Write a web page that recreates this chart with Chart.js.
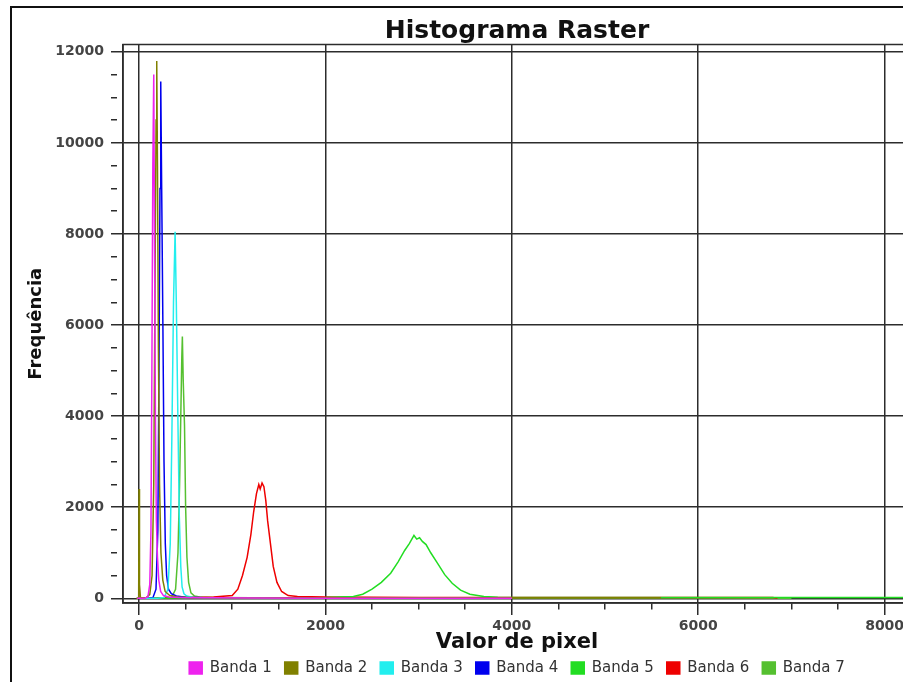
<!DOCTYPE html>
<html>
<head>
<meta charset="utf-8">
<script src="https://cdn.jsdelivr.net/npm/chart.js"></script>
<style>
  body { margin: 0; background: #fff; overflow: hidden; }
  .frame {
    position: absolute; left: 10px; top: 6px; width: 1000px; height: 1000px;
    border-left: 2px solid #111; border-top: 2px solid #111;
  }
  #wrap { position: absolute; left: 0; top: 0; width: 920px; height: 682px; }
</style>
</head>
<body>
<div class="frame"></div>
<div id="wrap"><canvas id="histChart" width="920" height="682"></canvas></div>
<script>
// Histograma Raster - frequência por valor de pixel, 7 bandas

const bandNames = ["Banda 1", "Banda 2", "Banda 3", "Banda 4", "Banda 5", "Banda 6", "Banda 7"];
const bandColors = ["#ee22ee", "#808000", "#22eeee", "#0000ee", "#22dd22", "#ee0000", "#55c030"];

// valores (x = valor de pixel, y = frequência)
const band1X = [-20, 60, 95, 115, 128, 138, 148, 158, 166, 176, 186, 198, 212, 232, 262, 320, 500, 800, 1200, 2000, 4000];
const band1Y = [0, 0, 30, 300, 1500, 5000, 9500, 11500, 8000, 4000, 1700, 900, 400, 150, 60, 30, 15, 10, 5, 3, 0];

const band2X = [-30, -4, 0, 5, 15, 40, 80, 115, 140, 158, 172, 183, 190, 198, 208, 220, 235, 255, 280, 330, 420, 600, 1000, 2000, 4000, 5600];
const band2Y = [0, 0, 2400, 300, 20, 10, 20, 80, 500, 2500, 7000, 10500, 11800, 9500, 5500, 2500, 1000, 400, 150, 60, 30, 15, 8, 10, 15, 15];

const band3X = [-20, 200, 270, 310, 335, 352, 370, 387, 400, 418, 432, 448, 462, 482, 512, 570, 700, 1000, 2000, 4000];
const band3Y = [0, 0, 20, 200, 1200, 3500, 6500, 8050, 6500, 3800, 1800, 700, 250, 100, 50, 25, 12, 6, 3, 0];

const band4X = [-20, 100, 150, 182, 202, 214, 225, 233, 243, 256, 268, 282, 296, 316, 346, 400, 500, 700, 1000, 2000, 4000];
const band4Y = [0, 0, 20, 200, 1500, 5000, 9000, 11350, 9000, 6000, 3000, 1200, 500, 200, 100, 50, 25, 12, 6, 3, 0];

const band5X = [-20, 1000, 2000, 2300, 2400, 2500, 2600, 2700, 2780, 2850, 2900, 2950, 2980, 3010, 3040, 3080, 3130, 3200, 3280, 3360, 3450, 3550, 3700, 3850, 4000, 5000, 6000, 7000, 8000, 8400];
const band5Y = [0, 15, 20, 40, 90, 200, 350, 550, 800, 1050, 1200, 1380, 1300, 1330, 1250, 1180, 1000, 780, 520, 330, 180, 90, 40, 25, 20, 20, 20, 20, 20, 20];

const band6X = [-20, 400, 800, 1000, 1060, 1110, 1160, 1200, 1230, 1260, 1285, 1300, 1320, 1340, 1360, 1380, 1410, 1440, 1480, 1530, 1600, 1700, 2000, 3000, 4000, 5000, 5600, 6000, 6800, 6850];
const band6Y = [0, 20, 30, 60, 200, 500, 900, 1400, 1900, 2300, 2500, 2400, 2530, 2450, 2150, 1700, 1200, 700, 350, 150, 60, 40, 30, 20, 20, 20, 20, 20, 20, 0];

const band7X = [-20, 250, 350, 392, 418, 435, 448, 459, 465, 474, 488, 500, 514, 532, 557, 595, 650, 800, 1200, 2000, 4000, 6000, 7000];
const band7Y = [0, 0, 20, 200, 1000, 2500, 4000, 5300, 5750, 4800, 3800, 2000, 900, 350, 120, 50, 30, 20, 10, 5, 5, 5, 0];

const bandX = [band1X, band2X, band3X, band4X, band5X, band6X, band7X];
const bandY = [band1Y, band2Y, band3Y, band4Y, band5Y, band6Y, band7Y];

// marcas dos eixos (rótulo só nos múltiplos de 2000)
const xTickValues = [0, 500, 1000, 1500, 2000, 2500, 3000, 3500, 4000, 4500, 5000, 5500, 6000, 6500, 7000, 7500, 8000];
const yTickValues = [0, 500, 1000, 1500, 2000, 2500, 3000, 3500, 4000, 4500, 5000, 5500, 6000,
  6500, 7000, 7500, 8000, 8500, 9000, 9500, 10000, 10500, 11000, 11500, 12000];

const xMin = -172, xMax = 8283;
const yMin = -103, yMax = 12160;

const fontFam = "'DejaVu Sans', Verdana, sans-serif";
const gridColor = "#2c2c2c";

// moldura em volta da área do gráfico
const plotFrame = {
  id: "plotFrame",
  afterDatasetsDraw(chart) {
    const { ctx, chartArea: a } = chart;
    ctx.save();
    ctx.strokeStyle = gridColor;
    ctx.lineWidth = 1.5;
    ctx.strokeRect(a.left, a.top, a.right - a.left, a.bottom - a.top);
    ctx.restore();
  }
};

const isMajor = (v) => v % 2000 === 0;

const datasets = bandNames.map((name, i) => ({
  label: name,
  data: bandX[i].map((x, j) => ({ x: x, y: bandY[i][j] })),
  borderColor: bandColors[i],
  backgroundColor: bandColors[i],
  borderWidth: 1.5,
  pointRadius: 0,
  tension: 0,
  fill: false
}));

function axisGrid() {
  return {
    color: (c) => (c.tick && isMajor(c.tick.value) ? gridColor : "rgba(0,0,0,0)"),
    lineWidth: 1.5,
    tickColor: gridColor,
    tickLength: 12,
    tickBorderDash: (c) => (c.tick && isMajor(c.tick.value) ? [] : [6, 30]),
    drawOnChartArea: true
  };
}

new Chart(document.getElementById("histChart"), {
  type: "line",
  data: { datasets: datasets },
  plugins: [plotFrame],
  options: {
    responsive: false,
    animation: false,
    layout: { padding: { left: 16, top: 18, right: 9, bottom: 0 } },
    plugins: {
      title: {
        display: true,
        text: "Histograma Raster",
        fullSize: false,
        color: "#111",
        font: { family: fontFam, size: 25, weight: "bold", lineHeight: 1.1 },
        padding: { top: 0, bottom: -1 }
      },
      legend: {
        position: "bottom",
        fullSize: false,
        maxHeight: 34.5,
        labels: {
          boxWidth: 13,
          boxHeight: 12,
          padding: 13,
          color: "#333",
          font: { family: fontFam, size: 15 }
        }
      },
      tooltip: { enabled: false }
    },
    scales: {
      x: {
        type: "linear",
        min: xMin,
        max: xMax,
        grid: axisGrid(),
        border: { display: true, color: gridColor, width: 1.5 },
        afterFit: (scale) => { scale.height = 44.5; },
        afterBuildTicks: (scale) => { scale.ticks = xTickValues.map((v) => ({ value: v })); },
        ticks: {
          autoSkip: false,
          maxRotation: 0,
          padding: 4,
          color: "#444",
          font: { family: fontFam, size: 14, weight: "bold", lineHeight: 1 },
          callback: (v) => (isMajor(v) ? String(v) : "")
        },
        title: {
          display: true,
          text: "Valor de pixel",
          color: "#111",
          font: { family: fontFam, size: 21, weight: "bold", lineHeight: 0.9 },
          padding: { top: 0, bottom: -4 }
        }
      },
      y: {
        type: "linear",
        min: yMin,
        max: yMax,
        grid: axisGrid(),
        border: { display: true, color: gridColor, width: 1.5 },
        afterFit: (scale) => { scale.width = 107; },
        afterBuildTicks: (scale) => { scale.ticks = yTickValues.map((v) => ({ value: v })); },
        ticks: {
          autoSkip: false,
          padding: 7,
          color: "#444",
          font: { family: fontFam, size: 14, weight: "bold" },
          callback: (v) => (isMajor(v) ? String(v) : "")
        },
        title: {
          display: true,
          text: "Frequência",
          color: "#111",
          font: { family: fontFam, size: 18, weight: "bold" },
          padding: { top: 10, bottom: 0 }
        }
      }
    }
  }
});
</script>
</body>
</html>
